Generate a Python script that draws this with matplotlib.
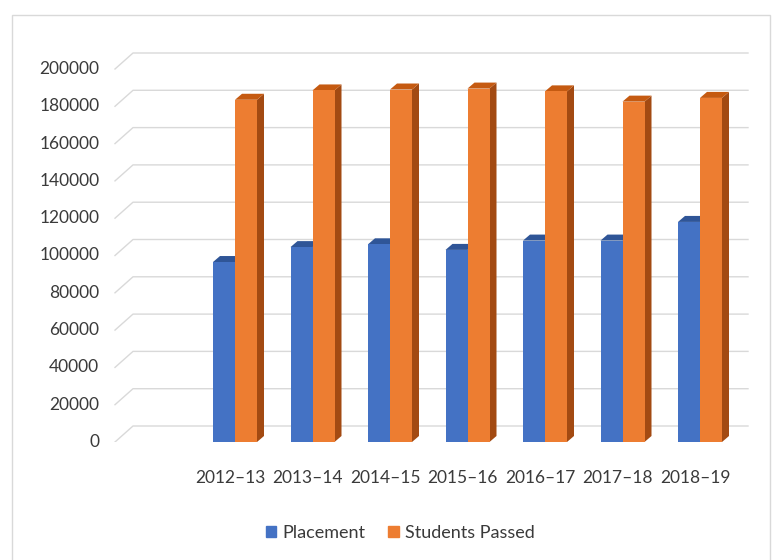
import numpy as np
import matplotlib
matplotlib.use("Agg")
import matplotlib.pyplot as plt
from matplotlib.patches import Polygon, Patch, Rectangle

years = ["2012–13", "2013–14", "2014–15", "2015–16", "2016–17", "2017–18", "2018–19"]
placement = [96500, 104500, 106000, 103000, 108000, 108000, 118000]
students_passed = [183500, 188500, 189000, 189500, 188000, 182500, 184500]
y_ticks = list(range(0, 200001, 20000))

blue, blue_top = "#4472C4", "#2F5597"
orange, orange_top, orange_side = "#ED7D31", "#C55A11", "#A34A12"

plt.rcParams['font.family'] = ['Lato', 'DejaVu Sans']

fig = plt.figure(figsize=(7.78, 5.6), dpi=100)
fig.patches.append(Rectangle((12 / 778, -0.01), 758 / 778, 1 - 15 / 560 + 0.01,
                             transform=fig.transFigure, fill=False,
                             edgecolor="#D9D9D9", lw=1))

# axes mapped so that y=0 sits at px 442 and 200000 at px 69
ax = fig.add_axes([112 / 778, (560 - 442) / 560, 638 / 778, 391.65 / 560])
step = 77.5
ax.set_xlim((112 - 235) / step, (750 - 235) / step)
ax.set_ylim(0, 210000)
ax.axis("off")

# 3d-ish back wall gridlines
px_y = 200000 / 373
gx0 = (115 - 235) / step
gdx = 18 / step
gdy = 16 * px_y
gx1 = (748 - 235) / step
for v in y_ticks:
    ax.plot([gx0, gx0 + gdx, gx1], [v, v + gdy, v + gdy], color="#D9D9D9", lw=1, zorder=1)
    ax.text(-1.75, v, str(v), ha="right", va="center", fontsize=12.5,
            color="#3a3a3a", clip_on=False)

x = np.arange(len(years))
w = 22 / step
ddx = 7 / step
ddy = 6 * px_y


def bar3d(x0, v, face, top, side, z):
    ax.add_patch(Polygon([(x0 + w, 0), (x0 + w + ddx, ddy), (x0 + w + ddx, v + ddy), (x0 + w, v)],
                         closed=True, facecolor=side, edgecolor="none", zorder=z))
    ax.add_patch(Polygon([(x0, v), (x0 + ddx, v + ddy), (x0 + w + ddx, v + ddy), (x0 + w, v)],
                         closed=True, facecolor=top, edgecolor="none", zorder=z))
    ax.bar(x0, v, width=w, align="edge", color=face, zorder=z + 0.5)


for i in range(len(years)):
    bar3d(x[i] - w, placement[i], blue, blue_top, blue_top, 2 + i * 2)
    bar3d(x[i], students_passed[i], orange, orange_top, orange_side, 3 + i * 2)

for i, lab in enumerate(years):
    ax.text(x[i] - 5 / step, -36 * px_y, lab, ha="center", va="center",
            fontsize=12.5, color="#3a3a3a", clip_on=False)

handles = [Patch(color=blue, label="Placement"), Patch(color=orange, label="Students Passed")]
fig.legend(handles=handles, loc="center", bbox_to_anchor=(400 / 778, 1 - 533 / 560),
           ncol=2, frameon=False, handlelength=0.6, handleheight=0.6,
           handletextpad=0.3, columnspacing=1.3, fontsize=13, labelcolor="#3a3a3a")

fig.savefig("out.png", dpi=100)
